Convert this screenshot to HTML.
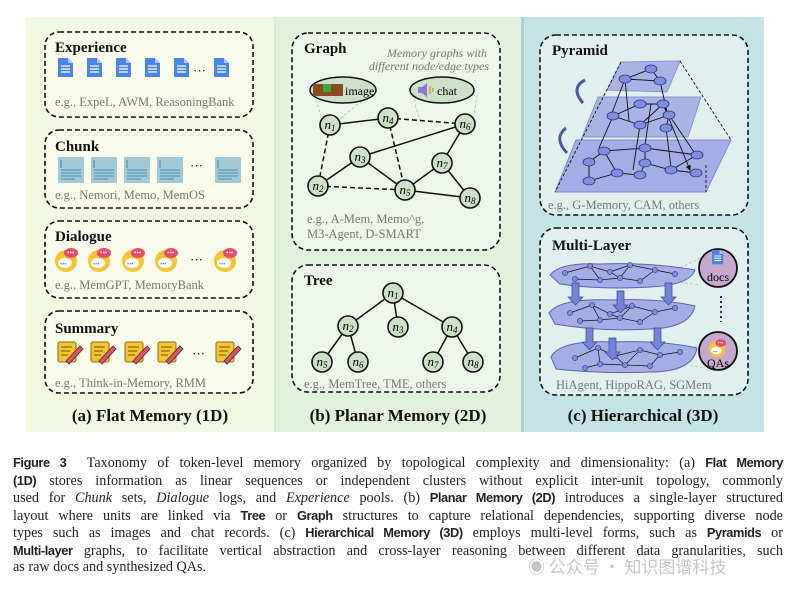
<!DOCTYPE html>
<html><head><meta charset="utf-8"><style>
html,body{margin:0;padding:0;background:#fff;width:803px;height:592px;overflow:hidden;}
.cap{position:absolute;left:13px;width:770px;font-family:"Liberation Serif",serif;font-size:14.2px;color:#222;text-align:justify;text-align-last:justify;white-space:nowrap;line-height:17px;}
.cap.last{text-align-last:left;}
.s{font-family:"Liberation Sans",sans-serif;font-weight:bold;font-size:12.8px;letter-spacing:-0.4px;}
.wm{position:absolute;left:528px;top:553px;font-family:"Noto Sans CJK SC",sans-serif;font-size:17px;color:#bbb;opacity:.85}
.t{font-weight:bold;}
</style></head><body>
<svg width="803" height="440" style="position:absolute;left:0;top:0" font-family="Liberation Serif, serif">
<defs>
<marker id="ar" markerWidth="6" markerHeight="6" refX="5" refY="3" orient="auto"><path d="M0,0L6,3L0,6z" fill="#111"/></marker>
<g id="doc"><path d="M0,0h10l5,5v14h-15z" fill="#4a86e8"/><path d="M10,0v5h5z" fill="#a9c6f5"/><path d="M3,8h9M3,11h9M3,14h9" stroke="#fff" stroke-width="1.2"/></g>
<g id="chk"><rect width="26" height="26" fill="#a3c9d6"/><path d="M3,4v6M2,4h2M2,10h2M3,13h20M3,16h20M3,19h20M3,22h14" stroke="#4a8fb0" stroke-width="1"/></g>
<g id="dlg"><circle cx="0" cy="4" r="11" fill="#f5c431"/><ellipse cx="-1" cy="6" rx="7" ry="5" fill="#fff"/><ellipse cx="5" cy="-4" rx="7" ry="5" fill="#e84a6a"/><text x="1" y="-2" font-size="7" fill="#fff">•••</text><text x="-6" y="9" font-size="6" fill="#6a5acd">•••</text></g>
<g id="sum"><rect x="0" y="0" width="18" height="20" rx="2" fill="#f5c431" stroke="#8a6a10" stroke-width="1"/><path d="M3,5h11M3,9h9M3,13h7" stroke="#8a6a10" stroke-width="1.2"/><path d="M8,19L22,4l3,3L11,22z" fill="#e8506a" stroke="#333" stroke-width=".8"/></g>
</defs>
<rect x="26" y="17" width="248" height="415" fill="#f3f8e3"/>
<rect x="274" y="17" width="249" height="415" fill="#e3f0dc"/>
<rect x="523" y="17" width="241" height="415" fill="#c5e2e4"/>
<rect x="274" y="17" width="2" height="415" fill="#d5ead0"/>
<rect x="521" y="17" width="3" height="415" fill="#a9d0d6"/>
<g fill="#f8fbec" stroke="#111" stroke-width="1.6" stroke-dasharray="5,3">
<rect x="45" y="32" width="208" height="85" rx="14"/>
<rect x="45" y="130" width="208" height="78" rx="14"/>
<rect x="45" y="221" width="208" height="77" rx="14"/>
<rect x="45" y="311" width="208" height="82" rx="14"/>
<rect x="292" y="33" width="208" height="217" rx="16" fill="#eef5ea"/>
<rect x="292" y="265" width="208" height="127" rx="16" fill="#eef5ea"/>
<rect x="540" y="35" width="208" height="180" rx="16" fill="#dff0ef"/>
<rect x="540" y="228" width="208" height="167" rx="16" fill="#dff0ef"/>
</g>
<g font-size="15" fill="#111">
<text class="t" x="55" y="52">Experience</text><text class="t" x="55" y="151">Chunk</text><text class="t" x="55" y="241">Dialogue</text><text class="t" x="55" y="333">Summary</text>
<text class="t" x="304" y="53">Graph</text><text class="t" x="304" y="285">Tree</text><text class="t" x="552" y="55">Pyramid</text><text class="t" x="552" y="250">Multi-Layer</text>
</g>
<g font-size="12.5" fill="#777">
<text x="55" y="106">e.g., ExpeL, AWM, ReasoningBank</text>
<text x="55" y="199">e.g., Nemori, Memo, MemOS</text>
<text x="55" y="289">e.g., MemGPT, MemoryBank</text>
<text x="55" y="387">e.g., Think-in-Memory, RMM</text>
<text x="307" y="223">e.g., A-Mem, Memo^g,</text><text x="307" y="238">M3-Agent, D-SMART</text>
<text x="304" y="388">e.g., MemTree, TME, others</text>
<text x="548" y="209">e.g., G-Memory, CAM, others</text>
<text x="556" y="389">HiAgent, HippoRAG, SGMem</text>
</g>
<g font-size="17" fill="#111" text-anchor="middle">
<text class="t" x="150" y="421">(a) Flat Memory (1D)</text><text class="t" x="398" y="421">(b) Planar Memory (2D)</text><text class="t" x="643" y="421">(c) Hierarchical  (3D)</text>
</g>
<use href="#doc" x="58" y="58"/><use href="#doc" x="87" y="58"/><use href="#doc" x="116" y="58"/><use href="#doc" x="145" y="58"/><use href="#doc" x="174" y="58"/><use href="#doc" x="214" y="58"/>
<text x="193" y="75" font-size="13">···</text>
<use href="#chk" x="58" y="157"/><use href="#chk" x="91" y="157"/><use href="#chk" x="124" y="157"/><use href="#chk" x="157" y="157"/><use href="#chk" x="215" y="157"/>
<text x="190" y="170" font-size="13">···</text>
<use href="#dlg" x="66" y="257"/><use href="#dlg" x="99" y="257"/><use href="#dlg" x="133" y="257"/><use href="#dlg" x="166" y="257"/><use href="#dlg" x="225" y="257"/>
<text x="190" y="264" font-size="13">···</text>
<use href="#sum" x="58" y="342"/><use href="#sum" x="91" y="342"/><use href="#sum" x="125" y="342"/><use href="#sum" x="158" y="342"/><use href="#sum" x="216" y="342"/>
<text x="192" y="358" font-size="13">···</text>
<text x="487" y="57" font-size="12" font-style="italic" fill="#777" text-anchor="end">Memory graphs with</text>
<text x="489" y="70" font-size="12" font-style="italic" fill="#777" text-anchor="end">different node/edge types</text>
<g stroke="#bbb" stroke-width=".8" stroke-dasharray="3,2"><path d="M315,95L322,120M370,95L338,120M412,95L420,120M477,95L474,115"/></g>
<ellipse cx="343" cy="90" rx="33" ry="13" fill="#cfe0c8" stroke="#111" stroke-width="1.5"/>
<rect x="313" y="84" width="30" height="12" fill="#8b4a22"/><rect x="323" y="84" width="8" height="8" fill="#3aa83a"/>
<text x="345" y="95" font-size="12">image</text>
<ellipse cx="442" cy="90" rx="32" ry="13" fill="#cfe0c8" stroke="#111" stroke-width="1.5"/>
<path d="M418,87h4l5,-4v14l-5,-4h-4z" fill="#8a7ad6"/><path d="M430,86v8M433,88v4" stroke="#e89a20" stroke-width="1.5"/>
<text x="437" y="95" font-size="12">chat</text>
<g stroke="#111" stroke-width="1.5" fill="none">
<path d="M330,125L388,118M465,124L360,157M360,157L318,186M360,157L405,190M405,190L442,163M442,163L465,124M442,163L470,198M405,190L470,198"/>
<path stroke-dasharray="5,3" d="M388,118L465,124M330,125L318,186M388,118L405,190M318,186L405,190"/>
</g>
<g fill="#cfe0c8" stroke="#111" stroke-width="1.6">
<circle cx="330" cy="125" r="10"/><circle cx="388" cy="118" r="10"/><circle cx="465" cy="124" r="10"/><circle cx="360" cy="157" r="10"/><circle cx="442" cy="163" r="10"/><circle cx="318" cy="186" r="10"/><circle cx="405" cy="190" r="10"/><circle cx="470" cy="198" r="10"/>
</g>
<g font-size="13" font-style="italic" text-anchor="middle">
<text x="330" y="129">n<tspan font-size="9" dy="2">1</tspan></text><text x="388" y="122">n<tspan font-size="9" dy="2">4</tspan></text><text x="465" y="128">n<tspan font-size="9" dy="2">6</tspan></text><text x="360" y="161">n<tspan font-size="9" dy="2">3</tspan></text><text x="442" y="167">n<tspan font-size="9" dy="2">7</tspan></text><text x="318" y="190">n<tspan font-size="9" dy="2">2</tspan></text><text x="405" y="194">n<tspan font-size="9" dy="2">5</tspan></text><text x="470" y="202">n<tspan font-size="9" dy="2">8</tspan></text>
</g>
<g stroke="#111" stroke-width="1.5"><path d="M393,293L348,326M393,293L398,327M393,293L452,327M348,326L322,362M348,326L358,362M452,327L433,362M452,327L473,362"/></g>
<g fill="#cfe0c8" stroke="#111" stroke-width="1.6">
<circle cx="393" cy="293" r="10"/><circle cx="348" cy="326" r="10"/><circle cx="398" cy="327" r="10"/><circle cx="452" cy="327" r="10"/><circle cx="322" cy="362" r="10"/><circle cx="358" cy="362" r="10"/><circle cx="433" cy="362" r="10"/><circle cx="473" cy="362" r="10"/>
</g>
<g font-size="13" font-style="italic" text-anchor="middle">
<text x="393" y="297">n<tspan font-size="9" dy="2">1</tspan></text><text x="348" y="330">n<tspan font-size="9" dy="2">2</tspan></text><text x="398" y="331">n<tspan font-size="9" dy="2">3</tspan></text><text x="452" y="331">n<tspan font-size="9" dy="2">4</tspan></text><text x="322" y="366">n<tspan font-size="9" dy="2">5</tspan></text><text x="358" y="366">n<tspan font-size="9" dy="2">6</tspan></text><text x="433" y="366">n<tspan font-size="9" dy="2">7</tspan></text><text x="473" y="366">n<tspan font-size="9" dy="2">8</tspan></text>
</g>
<g fill="#a3aee6" stroke="#7f8bd0" stroke-width="1">
<polygon points="555,192 576,140 731,140 706,192"/>
<polygon points="582,137 598,97 701,97 688,137" opacity=".9"/>
<polygon points="607,90 621,62 680,61 667,92" opacity=".9"/>
</g>
<g stroke="#111" stroke-width=".9" fill="none" stroke-dasharray="3,2"><path d="M680,61L731,140M706,165V192M621,62L555,192"/></g>
<g fill="none" stroke="#4a5aa0" stroke-width="3"><path d="M583,103Q570,88 585,80"/><path d="M567,153Q553,138 566,128"/></g>
<g stroke="#111" stroke-width=".9" fill="none">
<path d="M651,69L625,79M651,69L660,81M625,79L660,81M613,116L640,104L663,104L669,115L640,125L613,116M640,125L663,104M669,115L666,128M604,151L645,148L697,155M589,162L604,151M604,151L617,173M589,162L589,181L617,173L640,175L645,163L671,170L696,173M645,148L645,163M671,170L697,155"/>
<g marker-end="url(#ar)"><path d="M625,79L612,113M625,79L629,121M660,81L667,112M613,116L599,148M640,125L633,170M651,104L645,145M669,115L694,152M666,128L671,167M663,104L690,170"/></g>
</g>
<g fill="#7f8ee0" stroke="#2a3570" stroke-width=".8">
<ellipse cx="651" cy="69" rx="6" ry="4"/><ellipse cx="625" cy="79" rx="6" ry="4"/><ellipse cx="660" cy="81" rx="6" ry="4"/>
<ellipse cx="613" cy="116" rx="6" ry="4"/><ellipse cx="640" cy="125" rx="6" ry="4"/><ellipse cx="640" cy="104" rx="6" ry="4"/><ellipse cx="663" cy="104" rx="6" ry="4"/><ellipse cx="669" cy="115" rx="6" ry="4"/><ellipse cx="666" cy="128" rx="6" ry="4"/>
<ellipse cx="604" cy="151" rx="6" ry="4"/><ellipse cx="645" cy="148" rx="6" ry="4"/><ellipse cx="697" cy="155" rx="6" ry="4"/><ellipse cx="589" cy="162" rx="6" ry="4"/><ellipse cx="645" cy="163" rx="6" ry="4"/><ellipse cx="589" cy="181" rx="6" ry="4"/><ellipse cx="617" cy="173" rx="6" ry="4"/><ellipse cx="640" cy="175" rx="6" ry="4"/><ellipse cx="671" cy="170" rx="6" ry="4"/><ellipse cx="696" cy="173" rx="6" ry="4"/>
</g>
<g stroke="#bbb" stroke-width=".8" stroke-dasharray="3,2"><path d="M680,268L700,258M680,282L700,285M685,350L700,345M690,365L705,368"/></g>
<g fill="#a3aee6" stroke="#5a66b0" stroke-width="1">
<path d="M550,275Q560,262 600,264Q650,262 695,270Q690,285 650,287Q600,290 560,284Z"/>
<path d="M549,313Q560,298 610,300Q660,298 695,306Q690,328 650,329Q600,332 555,324Z"/>
<path d="M551,357Q560,340 610,342Q660,340 697,348Q693,372 650,372Q600,374 556,369Z"/>
</g>
<g stroke="#111" stroke-width=".7" fill="none">
<path d="M565,273L590,266L610,272L630,265L655,270L675,274M590,266L600,280L620,278L630,265M610,272L620,278L640,281L655,270M600,280L575,279"/>
<path d="M570,313L592,305L610,314L632,306L655,312L675,308M592,305L600,320L620,318L632,306M610,314L620,318L640,322L655,312M600,320L580,321"/>
<path d="M575,358L598,348L615,356L640,350L660,355L680,352M598,348L600,364L625,365L640,350M615,356L625,365L650,366L660,355M600,364L585,368"/>
</g>
<g fill="#7f8ee0" stroke="#2a3570" stroke-width=".6">
<circle cx="565" cy="273" r="2.6"/><circle cx="590" cy="266" r="2.6"/><circle cx="610" cy="272" r="2.6"/><circle cx="630" cy="265" r="2.6"/><circle cx="655" cy="270" r="2.6"/><circle cx="675" cy="274" r="2.6"/><circle cx="600" cy="280" r="2.6"/><circle cx="620" cy="278" r="2.6"/><circle cx="640" cy="281" r="2.6"/><circle cx="575" cy="279" r="2.6"/>
<circle cx="570" cy="313" r="2.6"/><circle cx="592" cy="305" r="2.6"/><circle cx="610" cy="314" r="2.6"/><circle cx="632" cy="306" r="2.6"/><circle cx="655" cy="312" r="2.6"/><circle cx="675" cy="308" r="2.6"/><circle cx="600" cy="320" r="2.6"/><circle cx="620" cy="318" r="2.6"/><circle cx="640" cy="322" r="2.6"/><circle cx="580" cy="321" r="2.6"/>
<circle cx="575" cy="358" r="2.6"/><circle cx="598" cy="348" r="2.6"/><circle cx="615" cy="356" r="2.6"/><circle cx="640" cy="350" r="2.6"/><circle cx="660" cy="355" r="2.6"/><circle cx="680" cy="352" r="2.6"/><circle cx="600" cy="364" r="2.6"/><circle cx="625" cy="365" r="2.6"/><circle cx="650" cy="366" r="2.6"/><circle cx="585" cy="368" r="2.6"/>
</g>
<g fill="#7384d8" stroke="#3a4590" stroke-width=".7">
<path d="M572,283h7v14h4l-7.5,8l-7.5,-8h4z"/><path d="M617,291h7v14h4l-7.5,8l-7.5,-8h4z"/><path d="M665,283h7v14h4l-7.5,8l-7.5,-8h4z"/>
<path d="M586,328h7v14h4l-7.5,8l-7.5,-8h4z"/><path d="M609,338h7v14h4l-7.5,8l-7.5,-8h4z"/><path d="M654,328h7v14h4l-7.5,8l-7.5,-8h4z"/>
</g>
<circle cx="718" cy="268" r="19" fill="#c5a7d0" stroke="#111" stroke-width="1.8"/>
<g transform="translate(712,250) scale(.75)"><use href="#doc"/></g>
<text x="718" y="281" font-size="12" text-anchor="middle">docs</text>
<path d="M721,296V322" stroke="#1a2a80" stroke-width="2" stroke-dasharray="2,3"/>
<circle cx="718" cy="351" r="19" fill="#c5a7d0" stroke="#111" stroke-width="1.8"/>
<g transform="translate(717,346) scale(.75)"><use href="#dlg"/></g>
<text x="718" y="367" font-size="12" text-anchor="middle">QAs</text>
</svg>
<div class="cap" style="top:454px"><span class="s">Figure 3</span>&nbsp; Taxonomy of token-level memory organized by topological complexity and dimensionality: (a) <span class="s">Flat Memory</span></div>
<div class="cap" style="top:472px"><span class="s">(1D)</span> stores information as linear sequences or independent clusters without explicit inter-unit topology, commonly</div>
<div class="cap" style="top:489px">used for <i>Chunk</i> sets, <i>Dialogue</i> logs, and <i>Experience</i> pools. (b) <span class="s">Planar Memory (2D)</span> introduces a single-layer structured</div>
<div class="cap" style="top:507px">layout where units are linked via <span class="s">Tree</span> or <span class="s">Graph</span> structures to capture relational dependencies, supporting diverse node</div>
<div class="cap" style="top:524px">types such as images and chat records. (c) <span class="s">Hierarchical Memory (3D)</span> employs multi-level forms, such as <span class="s">Pyramids</span> or</div>
<div class="cap" style="top:542px"><span class="s">Multi-layer</span> graphs, to facilitate vertical abstraction and cross-layer reasoning between different data granularities, such</div>
<div class="cap last" style="top:559px">as raw docs and synthesized QAs.</div>
<div class="wm">◉ 公众号 · 知识图谱科技</div>
</body></html>
